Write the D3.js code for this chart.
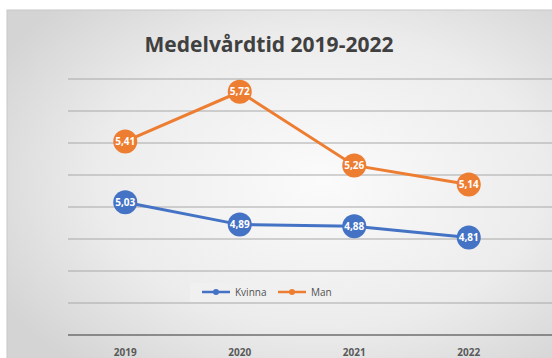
<!DOCTYPE html>
<html>
<head>
<meta charset="utf-8">
<script src="https://cdn.jsdelivr.net/npm/d3@7"></script>
<style>
  body { margin: 0; background: #fff; overflow: hidden; }
  svg { display: block; font-family: "Open Sans", "DejaVu Sans", sans-serif; }
</style>
</head>
<body>
<div id="chart"></div>
<script>
const years = ["2019", "2020", "2021", "2022"]
const kvinna = [5.03, 4.89, 4.88, 4.81]
const man = [5.41, 5.72, 5.26, 5.14]
const yTicks = [4.2, 4.4, 4.6, 4.8, 5.0, 5.2, 5.4, 5.6, 5.8]

const width = 552
const height = 358

const svg = d3.select("#chart")
    .append("svg")
    .attr("width", width)
    .attr("height", height)

// background gradient like the spreadsheet chart
const defs = svg.append("defs")
const grad = defs.append("radialGradient")
    .attr("id", "bg")
    .attr("cx", "55%").attr("cy", "45%").attr("r", "65%")
grad.append("stop").attr("offset", "0%").attr("stop-color", "#fbfbfb")
grad.append("stop").attr("offset", "60%").attr("stop-color", "#ececec")
grad.append("stop").attr("offset", "100%").attr("stop-color", "#d4d4d4")

svg.append("rect")
    .attr("x", 7).attr("y", 10)
    .attr("width", width + 20).attr("height", height + 20)
    .attr("fill", "url(#bg)")
    .attr("stroke", "#c8c8c8")

svg.append("text")
    .attr("x", 269).attr("y", 52)
    .attr("text-anchor", "middle")
    .style("font-size", "21px")
    .style("font-weight", "bold")
    .style("fill", "#404040")
    .text("Medelvårdtid 2019-2022")

const x = d3.scalePoint()
    .domain(years)
    .range([68, 526])
    .padding(0.5)

const y = d3.scaleLinear()
    .domain([4.2, 5.8])
    .range([335, 79])

// gridlines
svg.append("g")
    .selectAll("line")
    .data(yTicks)
    .join("line")
    .attr("x1", 68).attr("x2", width)
    .attr("y1", d => y(d)).attr("y2", d => y(d))
    .attr("stroke", d => d === 4.2 ? "#6e6e6e" : "#a8a8a8")
    .attr("stroke-width", d => d === 4.2 ? 1.5 : 1)

// x labels
svg.append("g")
    .selectAll("text")
    .data(years)
    .join("text")
    .attr("x", d => x(d))
    .attr("y", 356)
    .attr("text-anchor", "middle")
    .style("font-size", "10px")
    .style("font-weight", "bold")
    .style("fill", "#595959")
    .text(d => d)

const series = [
    { name: "Kvinna", values: kvinna, color: "#4472c4" },
    { name: "Man", values: man, color: "#ed7d31" }
]

const line = d3.line()
    .x((d, i) => x(years[i]))
    .y(d => y(d))

series.forEach(s => {
    const g = svg.append("g")
    g.append("path")
        .datum(s.values)
        .attr("d", line)
        .attr("fill", "none")
        .attr("stroke", s.color)
        .attr("stroke-width", 3)

    g.selectAll("circle")
        .data(s.values)
        .join("circle")
        .attr("cx", (d, i) => x(years[i]))
        .attr("cy", d => y(d))
        .attr("r", 12)
        .attr("fill", s.color)

    g.selectAll("text")
        .data(s.values)
        .join("text")
        .attr("x", (d, i) => x(years[i]))
        .attr("y", d => y(d) + 3.5)
        .attr("text-anchor", "middle")
        .style("font-size", "10px")
        .style("font-weight", "bold")
        .style("fill", "#fff")
        .text(d => d.toFixed(2).replace(".", ","))
})

// legend
const legend = svg.append("g")
legend.append("rect")
    .attr("x", 190).attr("y", 283)
    .attr("width", 152).attr("height", 19)
    .attr("fill", "#f0f0f0")

const items = legend.selectAll("g")
    .data(series)
    .join("g")
    .attr("transform", (d, i) => `translate(${i ? 278 : 202}, 292)`)

items.append("line")
    .attr("x1", 0).attr("x2", 28)
    .attr("stroke", d => d.color)
    .attr("stroke-width", 2.5)
items.append("circle")
    .attr("cx", 14).attr("r", 3)
    .attr("fill", d => d.color)
items.append("text")
    .attr("x", 33).attr("y", 3.5)
    .style("font-size", "10px")
    .style("fill", "#505050")
    .text(d => d.name)
</script>
</body>
</html>
